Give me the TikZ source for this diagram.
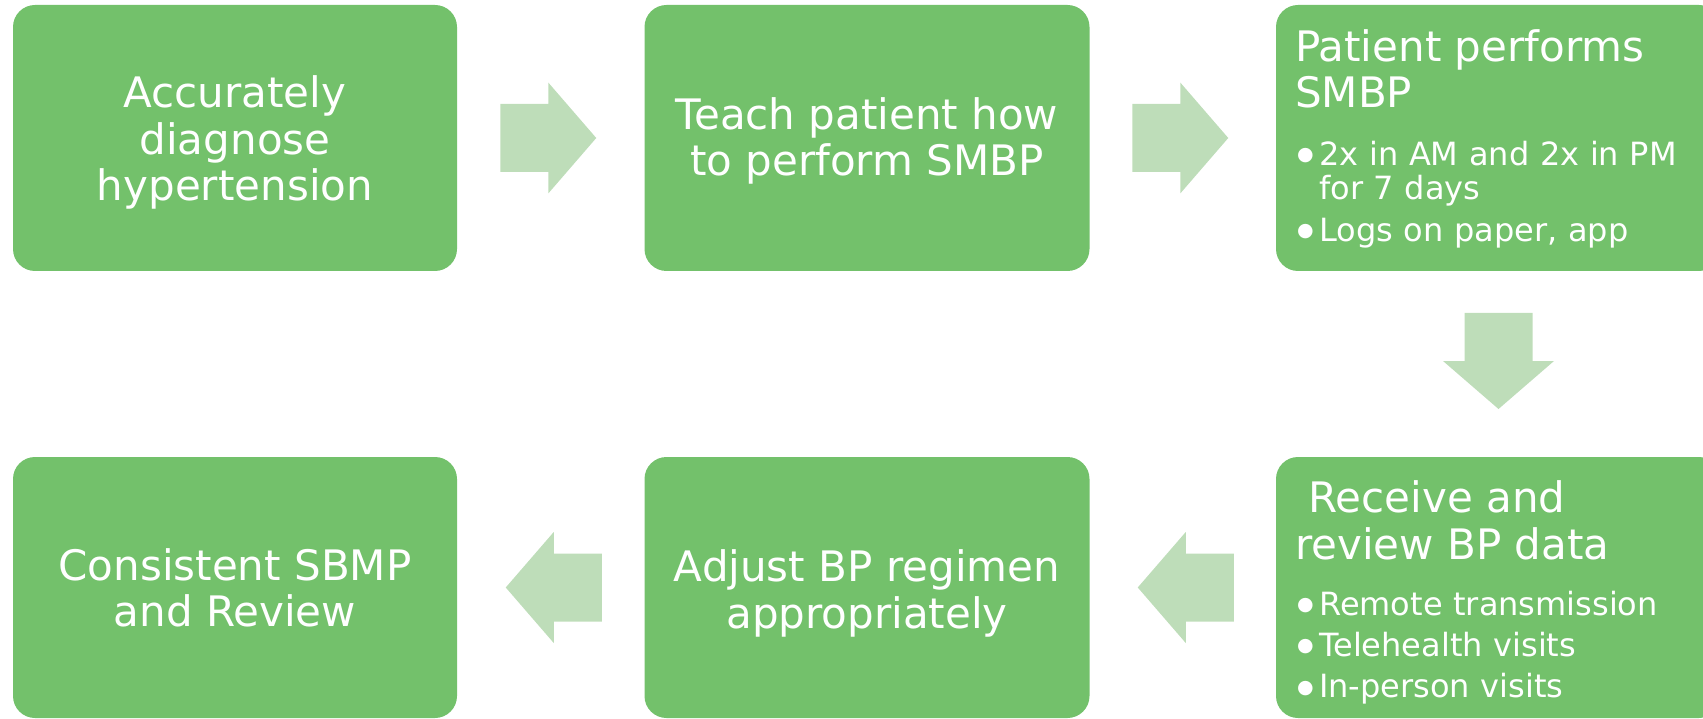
\documentclass[tikz,border=0pt]{standalone}
\usepackage{fontspec}
\setmainfont{DejaVu Sans}
\usetikzlibrary{calc}
\definecolor{boxgreen}{HTML}{73C16B}
\definecolor{arrowgreen}{HTML}{BEDDB9}
\newcommand{\bitem}[1]{\par\hangindent=22pt\hangafter=1\noindent\makebox[22pt][l]{\hspace*{0pt}\raisebox{4.5pt}{\fontsize{19}{19}\selectfont ●}}#1}
\begin{document}
\begin{tikzpicture}[x=1pt,y=-1pt,
  box/.style={fill=boxgreen, draw=none, rounded corners=22pt, inner sep=0pt},
  bigtext/.style={text=white, font=\fontsize{42}{46.7}\selectfont, inner sep=0pt},
  listtext/.style={text=white, font=\fontsize{32}{34}\selectfont, inner sep=0pt, text width=400pt, align=left},
  blockarrow/.style={fill=arrowgreen, draw=none}]
\useasboundingbox (0,0) rectangle (1703,719);
\clip (0,0) rectangle (1703,719);
% boxes
\node[box, minimum width=444pt, minimum height=266pt] (b1) at (235,138) {};
\node[box, minimum width=445pt, minimum height=266pt] (b2) at (867,138) {};
\node[box, minimum width=445pt, minimum height=266pt] (b3) at (1498.5,138) {};
\node[box, minimum width=445pt, minimum height=261pt] (b4) at (1498.5,587.5) {};
\node[box, minimum width=445pt, minimum height=261pt] (b5) at (867,587.5) {};
\node[box, minimum width=444pt, minimum height=261pt] (b6) at (235,587.5) {};
% texts
\node[bigtext, align=center] (t1) at (235,142.7) {Accurately\\diagnose\\hypertension};
\node[bigtext, align=center] (t2) at (867,140.8) {Teach patient how\\to perform SMBP};
\node[bigtext, align=left, anchor=north west] (t3) at (1295,29.1) {Patient performs\\SMBP};
\node[listtext, anchor=north west] (l3) at (1297,123.4) {\setlength{\parskip}{7.8pt}\bitem{2x in AM and 2x in PM\newline for 7 days}\bitem{Logs on paper, app}};
\node[bigtext, align=left, anchor=north west] (t4) at (1295,480.8) {~Receive and\\review BP data};
\node[listtext, anchor=north west] (l4) at (1297,573.5) {\setlength{\parskip}{7.3pt}\bitem{Remote transmission}\bitem{Telehealth visits}\bitem{In-person visits}};
\node[bigtext, align=center] (t5) at (867,593.2) {Adjust BP regimen\\appropriately};
\node[bigtext, align=center] (t6) at (235,587.9) {Consistent SBMP\\and Review};
% arrows
\coordinate (a12) at ($(b1.east)!0.5!(b2.west)+(-2.5,0)$);
\coordinate (a23) at ($(b2.east)!0.5!(b3.west)+(-2.5,0)$);
\coordinate (a34) at ($(b3.south)!0.5!(b4.north)+(0,-3)$);
\coordinate (a45) at ($(b4.west)!0.5!(b5.east)+(3,0)$);
\coordinate (a56) at ($(b5.west)!0.5!(b6.east)+(3,0)$);
\foreach \c/\r in {a12/0, a23/0, a34/-90, a45/180, a56/180}{
  \fill[blockarrow, shift={(\c)}, rotate=\r] (-48,-34) -- (0,-34) -- (0,-55.5) -- (48,0) -- (0,55.5) -- (0,34) -- (-48,34) -- cycle;
}
\end{tikzpicture}
\end{document}
